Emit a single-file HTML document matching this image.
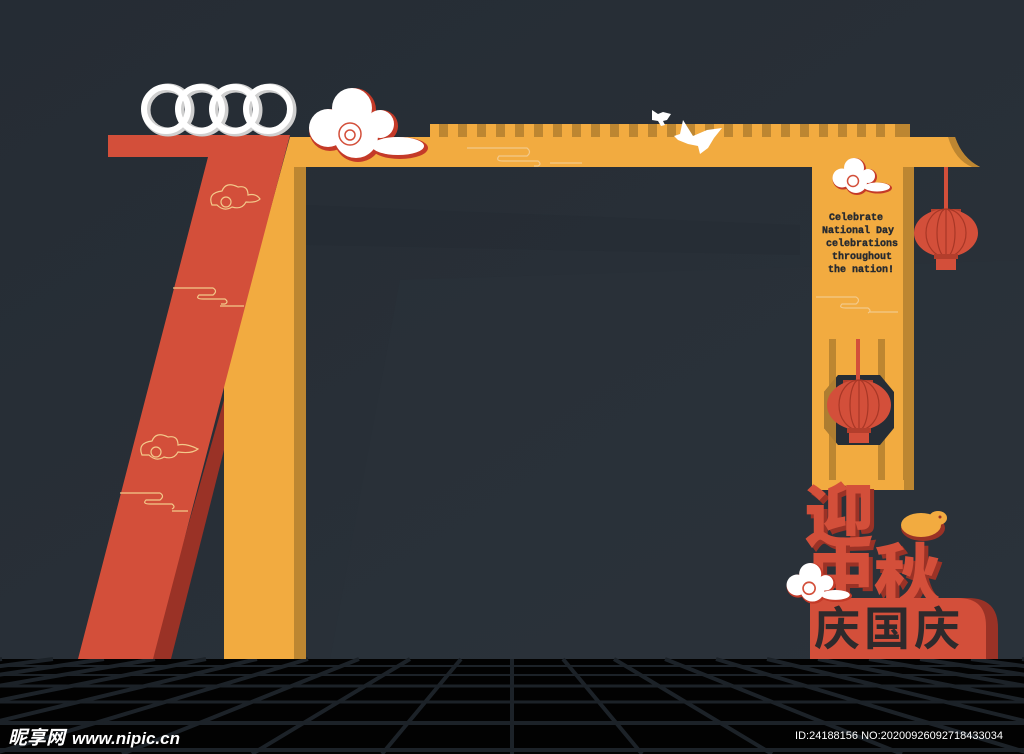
<!DOCTYPE html>
<html><head><meta charset="utf-8"><style>
html,body{margin:0;padding:0;background:#262d35;}
svg{display:block}
</style></head><body>
<svg width="1024" height="754" viewBox="0 0 1024 754" xmlns="http://www.w3.org/2000/svg">
<defs>
<linearGradient id="bg" x1="0" y1="0" x2="1" y2="1">
<stop offset="0" stop-color="#252c34"/><stop offset="1" stop-color="#2b323a"/>
</linearGradient>
</defs>
<rect width="1024" height="659" fill="url(#bg)"/>
<polygon points="400,280 1024,260 1024,659 330,659" fill="#2a3139" opacity="0.5"/>
<polygon points="306,205 800,225 800,255 306,245" fill="#232a31" opacity="0.4"/>

<rect y="659" width="1024" height="95" fill="#020202"/>
<g stroke="#1c2228" stroke-width="3">
<line x1="0" y1="666" x2="1024" y2="666" stroke-width="2"/>
<line x1="0" y1="675" x2="1024" y2="675" stroke-width="2"/>
<line x1="0" y1="686" x2="1024" y2="686"/>
<line x1="0" y1="702" x2="1024" y2="702"/>
<line x1="0" y1="723" x2="1024" y2="723" stroke-width="4"/>
<line x1="0" y1="750" x2="1024" y2="750" stroke-width="4"/>
</g>
<g stroke="#1c2228" stroke-width="4">
<line x1="-100" y1="659" x2="-1048" y2="754"/>
<line x1="-49" y1="659" x2="-918" y2="754"/>
<line x1="2" y1="659" x2="-788" y2="754"/>
<line x1="53" y1="659" x2="-658" y2="754"/>
<line x1="104" y1="659" x2="-528" y2="754"/>
<line x1="155" y1="659" x2="-398" y2="754"/>
<line x1="206" y1="659" x2="-268" y2="754"/>
<line x1="257" y1="659" x2="-138" y2="754"/>
<line x1="308" y1="659" x2="-8" y2="754"/>
<line x1="359" y1="659" x2="122" y2="754"/>
<line x1="410" y1="659" x2="252" y2="754"/>
<line x1="461" y1="659" x2="382" y2="754"/>
<line x1="512" y1="659" x2="512" y2="754"/>
<line x1="563" y1="659" x2="642" y2="754"/>
<line x1="614" y1="659" x2="772" y2="754"/>
<line x1="665" y1="659" x2="902" y2="754"/>
<line x1="716" y1="659" x2="1032" y2="754"/>
<line x1="767" y1="659" x2="1162" y2="754"/>
<line x1="818" y1="659" x2="1292" y2="754"/>
<line x1="869" y1="659" x2="1422" y2="754"/>
<line x1="920" y1="659" x2="1552" y2="754"/>
<line x1="971" y1="659" x2="1682" y2="754"/>
<line x1="1022" y1="659" x2="1812" y2="754"/>
<line x1="1073" y1="659" x2="1942" y2="754"/>
<line x1="1124" y1="659" x2="2072" y2="754"/>
</g>

<rect x="430" y="124" width="480" height="14" fill="#f2ab40"/>
<g fill="#bd8631">
<rect x="439" y="124" width="9" height="13"/><rect x="458" y="124" width="9" height="13"/><rect x="477" y="124" width="9" height="13"/><rect x="496" y="124" width="9" height="13"/><rect x="515" y="124" width="9" height="13"/><rect x="534" y="124" width="9" height="13"/><rect x="553" y="124" width="9" height="13"/><rect x="572" y="124" width="9" height="13"/><rect x="591" y="124" width="9" height="13"/><rect x="610" y="124" width="9" height="13"/><rect x="629" y="124" width="9" height="13"/><rect x="648" y="124" width="9" height="13"/><rect x="667" y="124" width="9" height="13"/><rect x="686" y="124" width="9" height="13"/><rect x="705" y="124" width="9" height="13"/><rect x="724" y="124" width="9" height="13"/><rect x="743" y="124" width="9" height="13"/><rect x="762" y="124" width="9" height="13"/><rect x="781" y="124" width="9" height="13"/><rect x="800" y="124" width="9" height="13"/><rect x="819" y="124" width="9" height="13"/><rect x="838" y="124" width="9" height="13"/><rect x="857" y="124" width="9" height="13"/><rect x="876" y="124" width="9" height="13"/><rect x="895" y="124" width="15" height="13"/>
</g>

<path d="M290,137 L955,137 Q962,158 980,167 L290,167 Z" fill="#f2ab40"/>
<path d="M948,137 L955,137 Q962,158 980,167 L972,167 Q955,160 948,137 Z" fill="#bd8631"/>

<polygon points="290,137 306,137 306,659 224,659 224,380 " fill="#f2ab40"/>
<rect x="294" y="167" width="12" height="492" fill="#bd8631"/>

<polygon points="224,400 224,450 171,659 150,659" fill="#9a3226"/>
<polygon points="108,135 290,135 153,659 78,659 208,157 108,157" fill="#d34f3a"/>

<rect x="812" y="160" width="92" height="330" fill="#f2ab40"/>
<rect x="903" y="167" width="11" height="323" fill="#bd8631"/>
<rect x="829" y="339" width="7" height="141" fill="#bd8631"/>
<rect x="878" y="339" width="7" height="141" fill="#bd8631"/>
<polygon points="838,375 880,375 894,392 894,428 880,445 838,445 824,428 824,392" fill="#262d35"/>
<polygon points="836,377 824,392 824,428 836,443" fill="#bd8631" opacity="0.9"/>

<rect x="944" y="167" width="4" height="45" fill="#d34f3a"/>
<rect x="931" y="209" width="30" height="5" fill="#b33e2c"/>
<ellipse cx="946" cy="233" rx="32" ry="24" fill="#d34f3a"/>
<g fill="none" stroke="#a83726" stroke-width="1.2">
<ellipse cx="946" cy="233" rx="20" ry="24"/><ellipse cx="946" cy="233" rx="9" ry="24"/><line x1="946" y1="209" x2="946" y2="257"/>
</g>
<rect x="934" y="254" width="24" height="5" fill="#b33e2c"/>
<rect x="936" y="259" width="20" height="11" fill="#d34f3a"/>
<rect x="856" y="339" width="4" height="42" fill="#d34f3a"/>
<rect x="843" y="380" width="30" height="5" fill="#b33e2c"/>
<ellipse cx="859" cy="405" rx="32" ry="25" fill="#d34f3a"/>
<g fill="none" stroke="#a83726" stroke-width="1.2">
<ellipse cx="859" cy="405" rx="20" ry="25"/><ellipse cx="859" cy="405" rx="9" ry="25"/><line x1="859" y1="380" x2="859" y2="430"/>
</g>
<rect x="847" y="428" width="24" height="5" fill="#b33e2c"/>
<rect x="849" y="433" width="20" height="10" fill="#d34f3a"/>

<g font-family="'Liberation Mono',monospace" font-weight="bold" font-size="10" fill="#262a30" text-anchor="middle" stroke="#262a30" stroke-width="0.4">
<text x="856" y="220">Celebrate</text>
<text x="858" y="233">National Day</text>
<text x="862" y="246">celebrations</text>
<text x="862" y="259">throughout</text>
<text x="861" y="272">the nation!</text>
</g>

<rect x="812" y="480" width="92" height="10" fill="#f2ab40"/>
<g font-family="'Noto Sans CJK SC',sans-serif" font-weight="900">
<text x="808" y="545" font-size="70" fill="#9a3226">迎</text>
<text x="804" y="541" font-size="70" fill="#d34f3a">迎</text>
<text x="812" y="602" font-size="66" fill="#9a3226">中秋</text>
<text x="808" y="598" font-size="66" fill="#d34f3a">中秋</text>
</g>
<path d="M820,598 L968,598 Q998,598 998,628 L998,659 L820,659 Z" fill="#9a3226"/>
<path d="M810,598 L958,598 Q986,598 986,626 L986,659 L810,659 Z" fill="#d34f3a"/>
<text x="814" y="645" font-family="'Noto Sans CJK SC',sans-serif" font-size="46" font-weight="bold" fill="#2e2a2c" letter-spacing="4">庆国庆</text>
<ellipse cx="923" cy="528" rx="22" ry="13" fill="#9a3226"/>
<ellipse cx="921" cy="525" rx="20" ry="12" fill="#f2ab40"/>
<ellipse cx="938" cy="518" rx="9" ry="7" fill="#f2ab40"/>
<circle cx="940" cy="517" r="1.5" fill="#9a3226"/>

<g fill="none" stroke="#cfcfcf" stroke-width="9">
<circle cx="168" cy="110" r="22"/><circle cx="202" cy="110" r="22"/><circle cx="236" cy="110" r="22"/><circle cx="270" cy="110" r="22"/>
</g>
<g fill="none" stroke="#ffffff" stroke-width="6">
<circle cx="166" cy="109" r="22"/><circle cx="200" cy="109" r="22"/><circle cx="234" cy="109" r="22"/><circle cx="268" cy="109" r="22"/>
</g>

<g transform="translate(308,88)">
<g fill="#c43a28">
<circle cx="46" cy="22" r="22"/><circle cx="22" cy="42" r="21"/><circle cx="50" cy="50" r="24"/><circle cx="74" cy="38" r="16"/><ellipse cx="92" cy="60" rx="28" ry="11"/>
</g>
<g fill="#ffffff">
<circle cx="44" cy="20" r="20"/><circle cx="20" cy="40" r="19"/><circle cx="48" cy="48" r="22"/><circle cx="72" cy="36" r="14"/><ellipse cx="90" cy="58" rx="26" ry="9"/>
</g>
<circle cx="42" cy="46" r="11" fill="none" stroke="#d34f3a" stroke-width="1.5"/>
<circle cx="42" cy="47" r="5" fill="none" stroke="#d34f3a" stroke-width="1.5"/>
</g>
<g transform="translate(832,158) scale(0.5)">
<g fill="#c43a28"><circle cx="46" cy="22" r="22"/><circle cx="22" cy="42" r="21"/><circle cx="50" cy="50" r="24"/><circle cx="74" cy="38" r="16"/><ellipse cx="92" cy="60" rx="28" ry="11"/></g>
<g fill="#fff"><circle cx="44" cy="20" r="20"/><circle cx="20" cy="40" r="19"/><circle cx="48" cy="48" r="22"/><circle cx="72" cy="36" r="14"/><ellipse cx="90" cy="58" rx="26" ry="9"/></g>
<circle cx="42" cy="46" r="11" fill="none" stroke="#d34f3a" stroke-width="3"/>
</g>
<g transform="translate(786,563) scale(0.55)">
<g fill="#c43a28"><circle cx="46" cy="22" r="22"/><circle cx="22" cy="42" r="21"/><circle cx="50" cy="50" r="24"/><circle cx="74" cy="38" r="16"/><ellipse cx="92" cy="60" rx="28" ry="11"/></g>
<g fill="#fff"><circle cx="44" cy="20" r="20"/><circle cx="20" cy="40" r="19"/><circle cx="48" cy="48" r="22"/><circle cx="72" cy="36" r="14"/><ellipse cx="90" cy="58" rx="26" ry="9"/></g>
<circle cx="42" cy="46" r="11" fill="none" stroke="#d34f3a" stroke-width="3"/>
</g>

<g fill="none" stroke="#f3c98a" stroke-width="1.2">
<path d="M212,205 q-5,-12 10,-14 q4,-10 16,-4 q10,-2 10,8 q8,-2 12,4 q-4,4 -14,3 q-4,8 -14,5 q-8,5 -15,-2 z"/>
<circle cx="226" cy="202" r="5"/>
<path d="M142,455 q-5,-12 10,-14 q4,-10 16,-4 q10,-2 10,8 q8,-2 20,4 q-6,5 -20,3 q-4,8 -14,5 q-8,5 -15,-2 z"/>
<circle cx="156" cy="452" r="5"/>
<path d="M173,288 h40 q5,3 0,7 h-14 q-4,4 4,4 h22 q4,3 0,5 h-4 M220,306 h24"/>
<path d="M120,493 h40 q5,3 0,7 h-14 q-4,4 4,4 h22 q4,3 0,5 M172,511 h16"/>
<path d="M467,148 h60 q5,4 0,8 h-28 q-4,5 4,5 h35 q4,3 0,5 h-4 M550,163 h32"/>
<path d="M816,297 h40 q5,3 0,7 h-14 q-4,4 4,4 h22 q4,3 0,5 M870,312 h28"/>
</g>

<g fill="#ffffff">
<path d="M652,110 l6,4 l5,-2 l8,2 l-4,6 l-4,1 l2,4 l-4,1 l-3,-5 l-6,-1 z"/>
<path d="M683,120 l10,16 l14,-6 l15,-2 l-8,10 l-6,10 l-8,6 l-2,-8 l-10,-2 l-10,-4 l-4,-4 l6,-2 z"/>
</g>

<text x="8" y="744" font-family="'Noto Sans CJK SC',sans-serif" font-weight="bold" font-style="italic" font-size="19" fill="#ffffff">昵享网</text>
<text x="72" y="744" font-family="'Liberation Sans',sans-serif" font-weight="bold" font-style="italic" font-size="17" fill="#ffffff">www.nipic.cn</text>
<text x="1003" y="739" text-anchor="end" font-family="'Liberation Sans',sans-serif" font-size="11" fill="#ffffff">ID:24188156 NO:20200926092718433034</text>
</svg>
</body></html>
